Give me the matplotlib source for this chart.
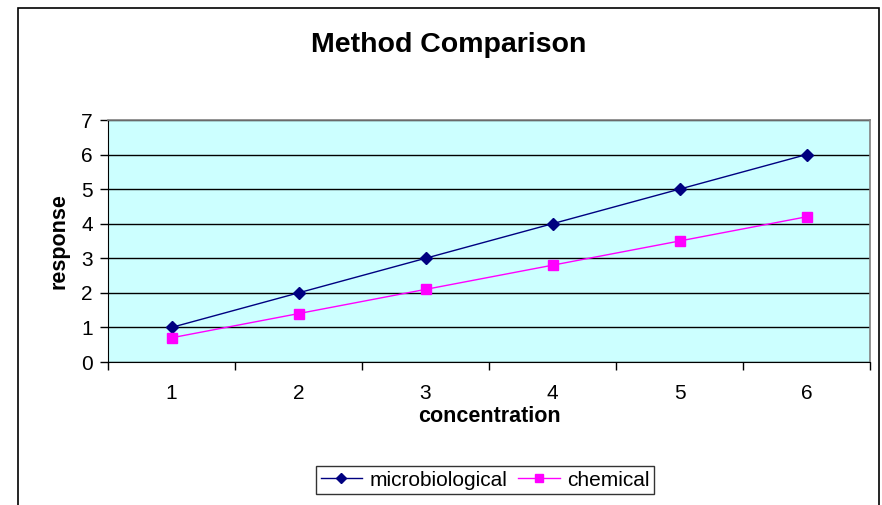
import matplotlib.pyplot as plt
from matplotlib.patches import Rectangle
import numpy as np

plt.rcParams['font.family'] = ['Liberation Sans', 'DejaVu Sans']

categories = ['1', '2', '3', '4', '5', '6']
microbiological = [1, 2, 3, 4, 5, 6]
chemical = [0.7, 1.4, 2.1, 2.8, 3.5, 4.2]

fig = plt.figure(figsize=(8.82, 5.05), dpi=100)
fig.patch.set_facecolor('white')

# chart area border (bottom edge runs off the picture)
fig.patches.append(Rectangle((18 / 882, -0.05), (879 - 18) / 882, 1.05 - 8 / 505,
                             transform=fig.transFigure, fill=False,
                             edgecolor='black', linewidth=1.2))

ax = fig.add_axes([108 / 882, 1 - 362 / 505, 762 / 882, 242 / 505])
ax.set_facecolor('#CCFFFF')

x = np.arange(1, len(categories) + 1)
ax.plot(x, microbiological, color='#000080', marker='D', markersize=6,
        linewidth=1, label='microbiological', zorder=3)
ax.plot(x, chemical, color='#FF00FF', marker='s', markersize=7,
        linewidth=1, label='chemical', zorder=3)

ax.set_xlim(0.5, len(categories) + 0.5)
ax.set_ylim(0, 7)
ax.set_yticks(range(0, 8))
ax.set_xticks(x)
ax.set_xticklabels(categories)
ax.set_xticks(np.arange(0.5, len(categories) + 1, 1), minor=True)
ax.tick_params(axis='x', which='major', length=0, pad=16, labelsize=15)
ax.tick_params(axis='x', which='minor', length=6, width=1, direction='out')
ax.tick_params(axis='y', length=6, width=1, direction='out', pad=5, labelsize=15)

ax.grid(axis='y', color='black', linewidth=1)
ax.set_axisbelow(True)
for side in ['top', 'right']:
    ax.spines[side].set_color('#808080')
    ax.spines[side].set_linewidth(1.2)
ax.spines['left'].set_color('black')
ax.spines['bottom'].set_color('black')

ax.set_xlabel('concentration', fontsize=15.5, fontweight='bold', labelpad=2)
ax.set_ylabel('response', fontsize=15.5, fontweight='bold', labelpad=8)

fig.text(449 / 882, 1 - 45 / 505, 'Method Comparison', fontsize=20.5,
         fontweight='bold', ha='center', va='center')

leg = fig.legend(loc='center', bbox_to_anchor=(485 / 882, 1 - 480 / 505), ncol=2,
                 fontsize=15, frameon=True, fancybox=False, edgecolor='black',
                 handlelength=2.0, handletextpad=0.35, columnspacing=0.5,
                 borderpad=0.2, borderaxespad=0, markerscale=0.8)
leg.get_frame().set_linewidth(1)

fig.savefig('out.png', dpi=100)
